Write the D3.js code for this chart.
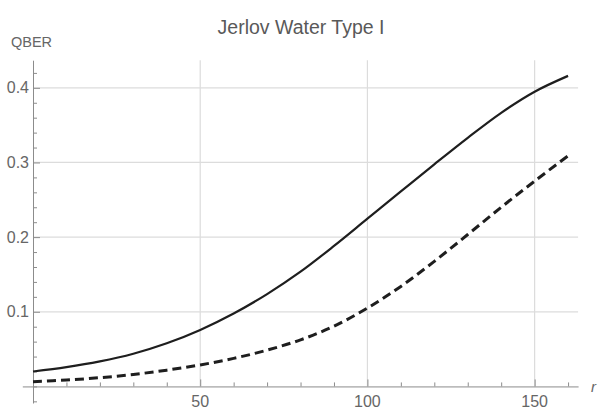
<!DOCTYPE html>
<html>
<head>
<meta charset="utf-8">
<script src="https://cdn.jsdelivr.net/npm/d3@7"></script>
<style>
    body { margin: 0; background: #fff; }
    svg { display: block; font-family: "Liberation Sans", Arial, sans-serif; }
</style>
</head>
<body>
<div id="chart"></div>
<script>
// distances r
const rValues = [0, 10, 20, 30, 40, 50, 60, 70, 80, 90, 100, 110, 120, 130, 140, 150, 160];
// QBER, solid curve
const qberSolid = [0.020, 0.0258, 0.0335, 0.0438, 0.0578, 0.0757, 0.0977, 0.1237, 0.1537, 0.1882, 0.2247, 0.2612, 0.2975, 0.333, 0.3665, 0.3948, 0.416];
// QBER, dashed curve
const qberDashed = [0.0064, 0.0086, 0.0117, 0.016, 0.0218, 0.0288, 0.0376, 0.0486, 0.0624, 0.0807, 0.105, 0.134, 0.1675, 0.2035, 0.24, 0.275, 0.309];

const xMajorTicks = [50, 100, 150];
const yMajorTicks = [0.1, 0.2, 0.3, 0.4];

const width = 599, height = 411;

const svg = d3.select("#chart")
    .append("svg")
    .attr("width", width)
    .attr("height", height);

const x = d3.scaleLinear().domain([-3.2, 163]).range([22.3, 578.1]);
const y = d3.scaleLinear().domain([-0.0222, 0.437]).range([403, 60.2]);

const axisColor = "#8c8c8c";
const textColor = "#666";

// Grid lines
svg.append("g")
    .selectAll("line")
    .data(xMajorTicks)
    .join("line")
    .attr("x1", d => x(d)).attr("x2", d => x(d))
    .attr("y1", y.range()[1]).attr("y2", y(0))
    .attr("stroke", "#dcdcdc").attr("stroke-width", 1.2);

svg.append("g")
    .selectAll("line")
    .data(yMajorTicks)
    .join("line")
    .attr("x1", x(0)).attr("x2", x.range()[1])
    .attr("y1", d => y(d)).attr("y2", d => y(d))
    .attr("stroke", "#dcdcdc").attr("stroke-width", 1.2);

// X axis (crosses at y = 0), ticks drawn inside
const xAxis = d3.axisTop(x)
    .tickValues(d3.range(10, 161, 10))
    .tickSize(4)
    .tickSizeOuter(0)
    .tickFormat("");
const xg = svg.append("g")
    .attr("transform", `translate(0, ${y(0)})`)
    .call(xAxis);
xg.selectAll(".tick line").attr("y2", d => xMajorTicks.includes(d) ? -7 : -4);

xg.selectAll(".major-label")
    .data(xMajorTicks)
    .join("text")
    .attr("class", "major-label")
    .attr("x", d => x(d))
    .attr("y", 21)
    .attr("text-anchor", "middle")
    .attr("fill", textColor)
    .attr("font-size", 16)
    .text(d => d);

// Y axis (crosses at x = 0)
const yAxis = d3.axisRight(y)
    .tickValues(d3.range(-0.02, 0.43, 0.02))
    .tickSize(4)
    .tickSizeOuter(0)
    .tickFormat("");
const yg = svg.append("g")
    .attr("transform", `translate(${x(0)}, 0)`)
    .call(yAxis);
yg.selectAll(".tick line").attr("x2", d => yMajorTicks.some(t => Math.abs(t - d) < 1e-6) ? 7 : 4);

yg.selectAll(".major-label")
    .data(yMajorTicks)
    .join("text")
    .attr("class", "major-label")
    .attr("x", -4)
    .attr("y", d => y(d))
    .attr("dy", "0.35em")
    .attr("text-anchor", "end")
    .attr("fill", textColor)
    .attr("font-size", 16)
    .text(d => d3.format(".1f")(d));

svg.selectAll(".domain, .tick line")
    .attr("stroke", axisColor)
    .attr("stroke-width", 1);

// Curves
const line = (vals) => d3.line()
    .x((d, i) => x(rValues[i]))
    .y(d => y(d))
    .curve(d3.curveCatmullRom.alpha(0.5))(vals);

svg.append("path")
    .attr("d", line(qberSolid))
    .attr("fill", "none")
    .attr("stroke", "#1e1e1e")
    .attr("stroke-width", 2.2);

svg.append("path")
    .attr("d", line(qberDashed))
    .attr("fill", "none")
    .attr("stroke", "#1e1e1e")
    .attr("stroke-width", 3)
    .attr("stroke-dasharray", "9,5");

// Labels
svg.append("text")
    .attr("x", 301)
    .attr("y", 34)
    .attr("text-anchor", "middle")
    .attr("fill", "#595959")
    .attr("font-size", 19.5)
    .text("Jerlov Water Type I");

svg.append("text")
    .attr("x", 11)
    .attr("y", 46.5)
    .attr("fill", textColor)
    .attr("font-size", 14.5)
    .text("QBER");

svg.append("text")
    .attr("x", 591)
    .attr("y", 392)
    .attr("fill", textColor)
    .attr("font-size", 15)
    .attr("font-style", "italic")
    .text("r");
</script>
</body>
</html>
